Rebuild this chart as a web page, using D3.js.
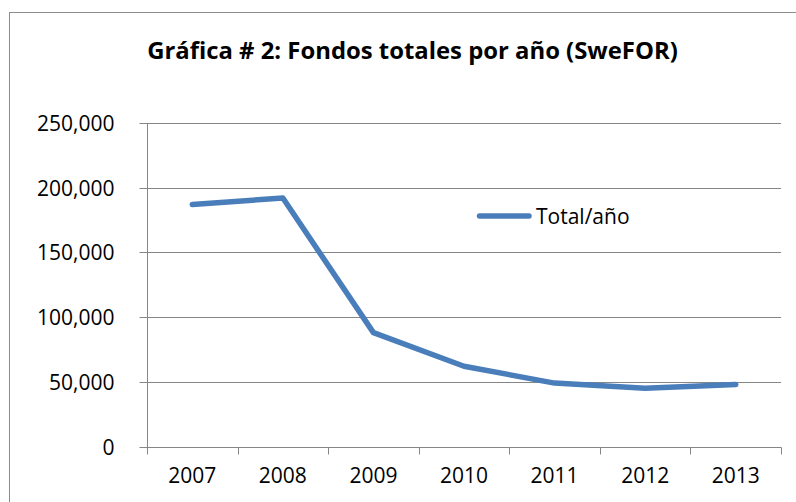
<!DOCTYPE html>
<html><head><meta charset="utf-8">
<script src="https://cdn.jsdelivr.net/npm/d3@7"></script>
<style>
html,body{margin:0;padding:0;background:#fff;}
svg{display:block;}
text{font-family:"Open Sans","Liberation Sans",sans-serif;fill:#000;}
</style></head>
<body>
<svg id="chart" width="796" height="502"></svg>
<script>
const years = ["2007","2008","2009","2010","2011","2012","2013"];
const totals = [187000, 192000, 88000, 62000, 49000, 45000, 48000];
const yTicks = [0, 50000, 100000, 150000, 200000, 250000];
const seriesName = "Total/año";
const title = "Gráfica # 2: Fondos totales por año (SweFOR)";

(function () {
const svg = d3.select("#chart");
const pLeft = 147, pRight = 781, pTop = 123, pBottom = 446.5;
const gridColor = "#868686";
const lineColor = "#4A7EBB";

// outer chart border
svg.append("rect").attr("x", 9.5).attr("y", 12.5).attr("width", 820).attr("height", 520)
  .attr("fill", "none").attr("stroke", "#8c8c8c").attr("stroke-width", 1);

const x = d3.scaleBand().domain(years).range([pLeft, pRight]).padding(0);
const y = d3.scaleLinear().domain([0, 250000]).range([pBottom, pTop]);

const fmt = d3.format(",");

// gridlines
svg.append("g").selectAll("line").data(yTicks.filter(d => d > 0)).join("line")
  .attr("x1", pLeft).attr("x2", pRight)
  .attr("y1", d => Math.round(y(d)) + 0.5).attr("y2", d => Math.round(y(d)) + 0.5)
  .attr("stroke", gridColor).attr("stroke-width", 1);

// y axis
const yAxis = d3.axisLeft(y).tickValues(yTicks).tickFormat(fmt).tickSize(8).tickPadding(25);
const gy = svg.append("g").attr("transform", `translate(${pLeft + 0.5},0)`).call(yAxis);
gy.select(".domain").attr("stroke", gridColor).attr("d", `M0,${Math.round(y(250000)) + 0.5}V${Math.round(y(0)) + 0.5}`);
gy.selectAll(".tick").attr("transform", d => `translate(0,${Math.round(y(d)) + 0.5})`);
gy.selectAll(".tick line").attr("stroke", gridColor);
gy.selectAll(".tick text").attr("font-family", "'Open Sans', sans-serif").attr("font-size", 21)
  .attr("fill", "#000").attr("dy", "0.35em");

// x axis baseline
const y0 = Math.round(y(0)) + 0.5;
svg.append("line").attr("x1", pLeft).attr("x2", pRight + 0.5).attr("y1", y0).attr("y2", y0)
  .attr("stroke", gridColor).attr("stroke-width", 1);
// boundary ticks
const bounds = years.map(d => x(d)).concat([x(years[years.length - 1]) + x.bandwidth()]);
svg.append("g").selectAll("line").data(bounds).join("line")
  .attr("x1", d => Math.round(d) + 0.5).attr("x2", d => Math.round(d) + 0.5)
  .attr("y1", y0).attr("y2", y0 + 7)
  .attr("stroke", gridColor).attr("stroke-width", 1);
// x labels
svg.append("g").selectAll("text").data(years).join("text")
  .attr("x", d => x(d) + x.bandwidth() / 2).attr("y", 483)
  .attr("text-anchor", "middle").attr("font-size", 21).text(d => d);

// line
const line = d3.line().x((d, i) => x(years[i]) + x.bandwidth() / 2).y(d => y(d));
svg.append("path").datum(totals).attr("d", line)
  .attr("fill", "none").attr("stroke", lineColor).attr("stroke-width", 5.5)
  .attr("stroke-linecap", "round").attr("stroke-linejoin", "round");

// legend
svg.append("line").attr("x1", 479.5).attr("x2", 529).attr("y1", 216).attr("y2", 216)
  .attr("stroke", lineColor).attr("stroke-width", 5.5).attr("stroke-linecap", "round");
svg.append("text").attr("x", 536).attr("y", 223.5).attr("font-size", 21).text(seriesName);

// title
const t = svg.append("text").attr("x", 412.5).attr("y", 59).attr("text-anchor", "middle")
  .attr("font-weight", "bold").attr("font-size", 25).text(title);
const w = t.node().getComputedTextLength();
t.attr("font-size", 25 * 531 / w);
})();
</script>
</body></html>
